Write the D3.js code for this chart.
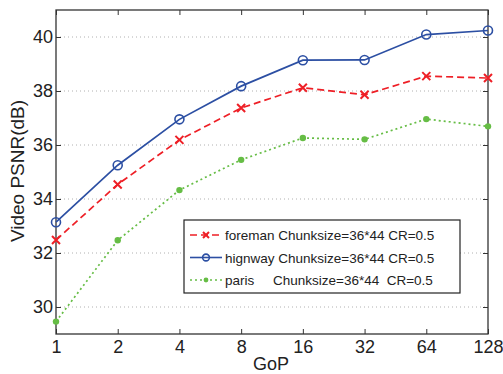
<!DOCTYPE html>
<html>
<head>
<meta charset="utf-8">
<script src="https://cdn.jsdelivr.net/npm/d3@7"></script>
<style>
  body { margin: 0; background: #fff; }
  svg { display: block; font-family: "Liberation Sans", Arial, sans-serif; }
</style>
</head>
<body>
<div id="graph"></div>
<script>
// chart data
var gop = [1, 2, 4, 8, 16, 32, 64, 128]
var yTicks = [30, 32, 34, 36, 38, 40]
var foreman = [32.48, 34.54, 36.19, 37.37, 38.12, 37.86, 38.55, 38.48]
var highway = [33.14, 35.25, 36.95, 38.18, 39.14, 39.15, 40.09, 40.24]
var paris = [29.46, 32.47, 34.33, 35.45, 36.26, 36.21, 36.96, 36.69]
var legendLabels = ["foreman Chunksize=36*44 CR=0.5",
                    "hignway Chunksize=36*44 CR=0.5",
                    "paris"]

var margin = {top: 10, right: 15, bottom: 40, left: 56},
    width = 503 - margin.left - margin.right,
    height = 374 - margin.top - margin.bottom

var svg = d3.select("#graph").append("svg")
            .attr("width", 503)
            .attr("height", 374)

var g = svg.append("g")
           .attr("transform", "translate(" + margin.left + "," + margin.top + ")")

var x = d3.scaleLog().base(2).domain([1, 128]).range([0, width]),
    y = d3.scaleLinear().domain([29, 41]).range([height, 0])

// grid
g.selectAll(".grid").data(yTicks).enter().append("line")
 .attr("x1", 0).attr("x2", width)
 .attr("y1", function(d) { return y(d) }).attr("y2", function(d) { return y(d) })
 .attr("stroke", "#b0b0b0").attr("stroke-width", 1)
 .attr("stroke-dasharray", "1,3")

// axes
var xAxis = d3.axisBottom(x).tickValues(gop).tickFormat(d3.format("d"))
                .tickSizeInner(-5).tickSizeOuter(0).tickPadding(6)
var yAxis = d3.axisLeft(y).tickValues(yTicks)
                .tickSizeInner(-5).tickSizeOuter(0).tickPadding(3)

function styleAxis(sel) {
    sel.select(".domain").remove()
    sel.selectAll("line").attr("stroke", "#333")
    sel.selectAll("text").attr("fill", "#222").style("font-size", "18px")
}

g.append("g").attr("transform", "translate(0," + height + ")").call(xAxis).call(styleAxis)
g.append("g").call(yAxis).call(styleAxis)
g.append("g").call(d3.axisTop(x).tickValues(gop).tickSizeInner(-5).tickSizeOuter(0).tickFormat(""))
 .call(styleAxis)
g.append("g").attr("transform", "translate(" + width + ",0)")
 .call(d3.axisRight(y).tickValues(yTicks).tickSizeInner(-5).tickSizeOuter(0).tickFormat(""))
 .call(styleAxis)

g.append("rect").attr("width", width).attr("height", height)
 .attr("fill", "none").attr("stroke", "#333").attr("stroke-width", 1.3)

// series
var series = [
    {vals: foreman, color: "#ee1f26", dash: "7,4", marker: "x"},
    {vals: highway, color: "#2c4fa3", dash: null, marker: "o"},
    {vals: paris, color: "#66bd45", dash: "2,3", marker: "dot"}
]

var line = d3.line()
    .x(function(d, i) { return x(gop[i]) })
    .y(function(d) { return y(d) })

function drawMarker(sel, s, px, py, k) {
    if (s.marker == "x") {
        var a = 4 * k
        sel.append("path")
           .attr("d", "M" + (px-a) + "," + (py-a) + "L" + (px+a) + "," + (py+a) +
                      "M" + (px-a) + "," + (py+a) + "L" + (px+a) + "," + (py-a))
           .attr("stroke", s.color).attr("stroke-width", 2)
    } else if (s.marker == "o") {
        sel.append("circle").attr("cx", px).attr("cy", py).attr("r", 4.5 * k)
           .attr("fill", "none").attr("stroke", s.color).attr("stroke-width", 1.6)
    } else {
        sel.append("circle").attr("cx", px).attr("cy", py).attr("r", 3.2 * k)
           .attr("fill", s.color)
    }
}

series.forEach(function(s) {
    g.append("path").datum(s.vals)
     .attr("fill", "none").attr("stroke", s.color).attr("stroke-width", 1.7)
     .attr("stroke-dasharray", s.dash)
     .attr("d", line)
    s.vals.forEach(function(v, i) {
        drawMarker(g, s, x(gop[i]), y(v), 1)
    })
})

// legend
var lg = svg.append("g").attr("transform", "translate(184,220)")
lg.append("rect").attr("width", 276).attr("height", 73)
  .attr("fill", "#fff").attr("stroke", "#222").attr("stroke-width", 1.2)

series.forEach(function(s, i) {
    var ly = 15 + i * 22.5
    lg.append("line").attr("x1", 6).attr("x2", 38).attr("y1", ly).attr("y2", ly)
      .attr("stroke", s.color).attr("stroke-width", 1.6).attr("stroke-dasharray", s.dash)
    drawMarker(lg, s, 22, ly, 0.75)
    lg.append("text").attr("x", 41).attr("y", ly + 5)
      .style("font-size", "13.5px").attr("fill", "#222")
      .text(legendLabels[i])
})
lg.append("text").attr("x", 89).attr("y", 15 + 2 * 22.5 + 5)
  .style("font-size", "13.5px").attr("fill", "#222")
  .attr("xml:space", "preserve").style("white-space", "pre")
  .text("Chunksize=36*44  CR=0.5")

// axis titles
svg.append("text").attr("x", 271).attr("y", 370)
   .attr("text-anchor", "middle").style("font-size", "18px").attr("fill", "#222")
   .text("GoP")
svg.append("text")
   .attr("transform", "translate(24,171) rotate(-90)")
   .attr("text-anchor", "middle").style("font-size", "19px").attr("fill", "#222")
   .text("Video PSNR(dB)")
</script>
</body>
</html>
